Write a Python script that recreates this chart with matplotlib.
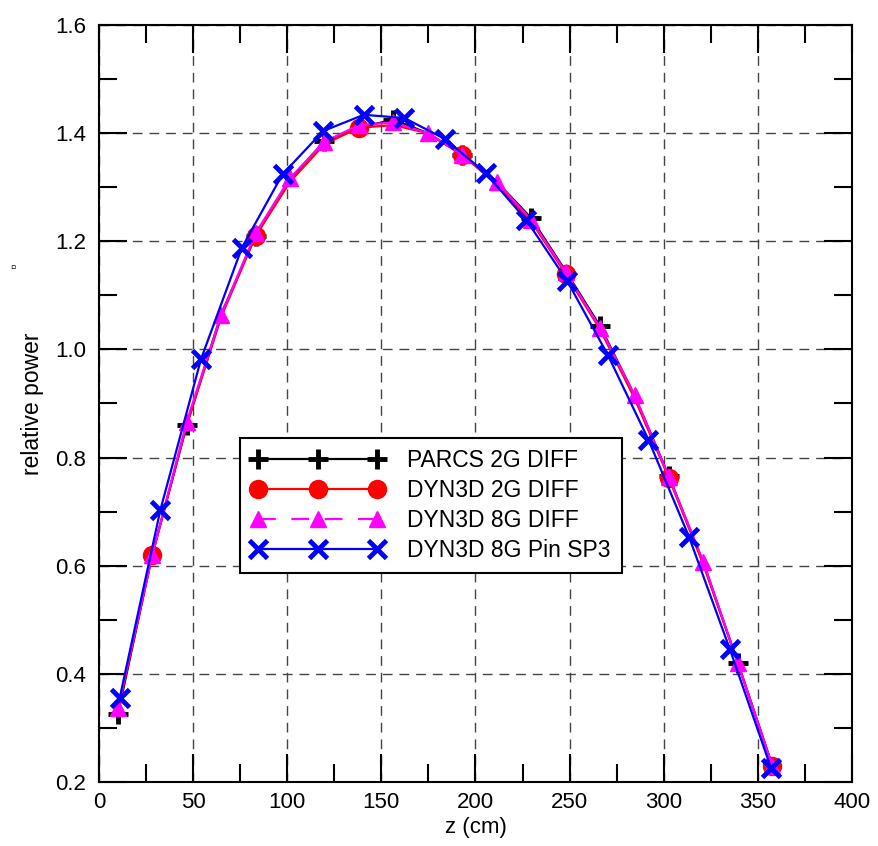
import matplotlib.pyplot as plt
from matplotlib.lines import Line2D
from matplotlib.ticker import MultipleLocator

plt.rcParams['font.family'] = ['Liberation Sans', 'DejaVu Sans']

# axial node positions (cm)
z_nodes = [10.0, 28.3, 46.6, 64.9, 83.2, 101.5, 119.8, 138.1, 156.4, 174.7,
           193.0, 211.3, 229.6, 247.9, 266.2, 284.5, 302.8, 321.1, 339.4, 357.7]
z_pin = [11.0, 32.6, 54.2, 75.9, 97.5, 119.1, 140.7, 162.3, 183.9, 205.5,
         227.1, 248.7, 270.3, 291.9, 313.5, 335.1, 357.0]

parcs_2g = [0.325, 0.62, 0.86, 1.065, 1.21, 1.315, 1.385, 1.41, 1.425, 1.40,
            1.36, 1.31, 1.243, 1.145, 1.043, 0.915, 0.765, 0.605, 0.42, 0.23]
dyn3d_2g = [0.33, 0.62, 0.86, 1.06, 1.21, 1.31, 1.38, 1.41, 1.415, 1.40,
            1.36, 1.305, 1.237, 1.14, 1.037, 0.91, 0.762, 0.602, 0.42, 0.23]
dyn3d_8g = [0.337, 0.62, 0.866, 1.064, 1.215, 1.317, 1.384, 1.415, 1.42, 1.40,
            1.36, 1.31, 1.24, 1.143, 1.04, 0.916, 0.764, 0.607, 0.42, 0.23]
dyn3d_sp3 = [0.355, 0.703, 0.982, 1.188, 1.324, 1.404, 1.434, 1.428, 1.389, 1.326,
             1.239, 1.127, 0.99, 0.833, 0.653, 0.446, 0.226]

labels = ['PARCS 2G DIFF', 'DYN3D 2G DIFF', 'DYN3D 8G DIFF', 'DYN3D 8G Pin SP3']

fig = plt.figure(figsize=(8.79, 8.46), dpi=100)
ax = fig.add_axes([0.1126, 0.0757, 0.8566, 0.8947])

ax.plot(z_nodes, parcs_2g, color='black', lw=1.6, marker='+', ms=14, mew=3.5,
        markevery=2)
ax.plot(z_nodes, dyn3d_2g, color='red', lw=1.6, marker='o', ms=13,
        markevery=(1, 3))
ax.plot(z_nodes, dyn3d_8g, color='magenta', lw=1.6, marker='^', ms=11)
ax.plot(z_pin, dyn3d_sp3, color='blue', lw=1.6, marker='x', ms=13, mew=3.5)

ax.set_xlim(0, 400)
ax.set_ylim(0.2, 1.6)
ax.xaxis.set_major_locator(MultipleLocator(50))
ax.xaxis.set_minor_locator(MultipleLocator(25))
ax.yaxis.set_major_locator(MultipleLocator(0.2))
ax.yaxis.set_minor_locator(MultipleLocator(0.1))
ax.tick_params(which='both', direction='in', top=True, right=True, width=1.5,
               labelsize=16)
ax.tick_params(which='major', length=20)
ax.tick_params(axis='y', which='major', pad=9)
ax.tick_params(axis='x', which='major', pad=7)
ax.tick_params(which='minor', length=13)
ax.grid(True, which='major', color='#444444', ls=(0, (7, 5)), lw=1.0)
for s in ax.spines.values():
    s.set_linewidth(1.5)

ax.set_xlabel('z (cm)', fontsize=16, labelpad=3)
ax.set_ylabel('relative power', fontsize=16.5, labelpad=8)
fig.text(0.015, 0.683, '\u25ab', fontsize=11, ha='center', va='center')

handles = [
    Line2D([], [], color='black', lw=1.6, marker='+', ms=14, mew=3.5),
    Line2D([], [], color='red', lw=1.6, marker='o', ms=13),
    Line2D([], [], color='magenta', lw=1.6, marker='^', ms=11, ls=(0, (8, 7))),
    Line2D([], [], color='blue', lw=1.6, marker='x', ms=13, mew=3.5),
]
leg = ax.legend(handles, labels, loc='lower left', bbox_to_anchor=(0.187, 0.276),
                numpoints=3, handlelength=5.8, fontsize=16.5, fancybox=False,
                framealpha=1, edgecolor='black', borderpad=0.5, borderaxespad=0,
                labelspacing=0.3, handletextpad=1.0)
leg.get_frame().set_linewidth(1.5)

plt.savefig('out.png', dpi=100)
